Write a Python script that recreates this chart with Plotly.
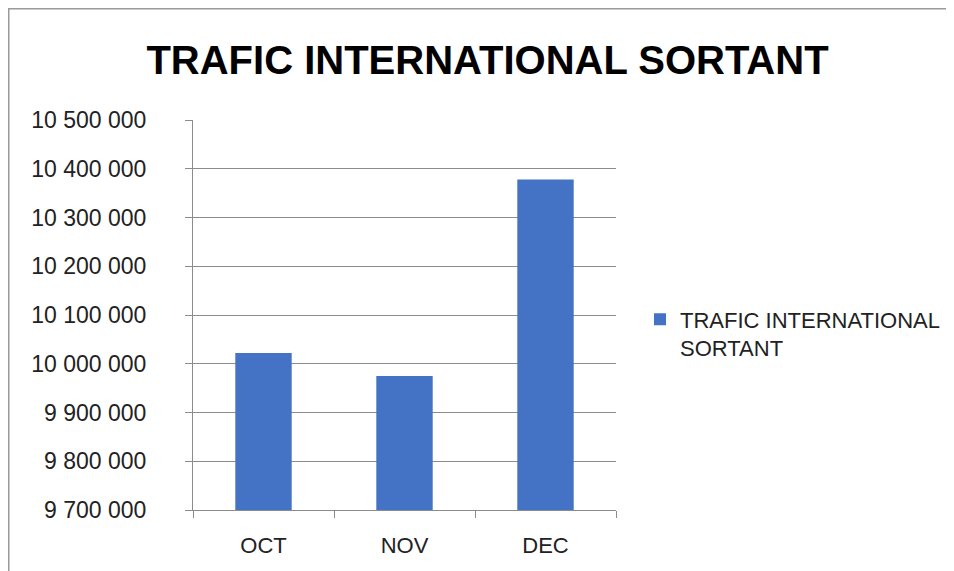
import plotly.graph_objects as go

categories = ["OCT", "NOV", "DEC"]
values = [10022000, 9975000, 10378000]
series_name = "TRAFIC INTERNATIONAL SORTANT"
title_text = "TRAFIC INTERNATIONAL SORTANT"
y_ticks = [9700000, 9800000, 9900000, 10000000, 10100000, 10200000, 10300000, 10400000, 10500000]

# page is offset by 8px body margin
OFF = 8
W, H = 990, 580
ml, mt = 193 - OFF, 120 - OFF
pw, ph = 423, 390
mr, mb = W - ml - pw, H - mt - ph

def px_x(x):
    return (x - OFF - ml) / pw

def px_y(y):
    return (mt + ph - (y - OFF)) / ph

fig = go.Figure()
fig.add_trace(go.Bar(
    x=categories, y=values, name="TRAFIC INTERNATIONAL<br>SORTANT",
    marker=dict(color="#4472C4", line=dict(width=0)),
    showlegend=True,
))

grid_col = "#8c8c8c"
fig.update_layout(
    width=W, height=H,
    margin=dict(l=ml, r=mr, t=mt, b=mb, autoexpand=False),
    paper_bgcolor="white", plot_bgcolor="white",
    separators=", ",
    bargap=0.6,
    title=dict(text="<b>" + title_text + "</b>", x=(0.5 * (150 + 825) - OFF) / W, xanchor="center",
               y=1 - (60 - OFF) / H, yanchor="middle",
               font=dict(family="Liberation Sans, Arial", size=40, color="#000000")),
    font=dict(family="Liberation Sans, Arial", color="#222222"),
    showlegend=True,
    legend=dict(x=px_x(640), y=px_y(334), xanchor="left", yanchor="middle",
                font=dict(size=22, color="#222222"), bgcolor="rgba(0,0,0,0)",
                itemwidth=30, tracegroupgap=0, valign="top"),
    xaxis=dict(type="category", showgrid=False, showline=True, linecolor=grid_col, linewidth=1,
               ticks="outside", tickson="boundaries", ticklen=7, tickcolor=grid_col,
               tickfont=dict(size=22, color="#222222"), ticklabelstandoff=16, automargin=False),
    yaxis=dict(range=[9700000, 10500000], tickvals=y_ticks, tickformat=",d",
               showgrid=True, gridcolor=grid_col, gridwidth=1,
               showline=True, linecolor=grid_col, linewidth=1,
               ticks="outside", ticklen=7, tickcolor=grid_col,
               tickfont=dict(size=23, color="#222222"), zeroline=False, ticklabelstandoff=34,
               automargin=False),
)

# chart-area border (top and left edges visible)
fig.add_shape(type="line", xref="paper", yref="paper",
              x0=px_x(7), x1=px_x(W + 20), y0=px_y(8.5), y1=px_y(8.5),
              line=dict(color="#9a9a9a", width=2))
fig.add_shape(type="line", xref="paper", yref="paper",
              x0=px_x(8.5), x1=px_x(8.5), y0=px_y(8), y1=px_y(H + 20),
              line=dict(color="#9a9a9a", width=2))

fig.write_html("out.html")
